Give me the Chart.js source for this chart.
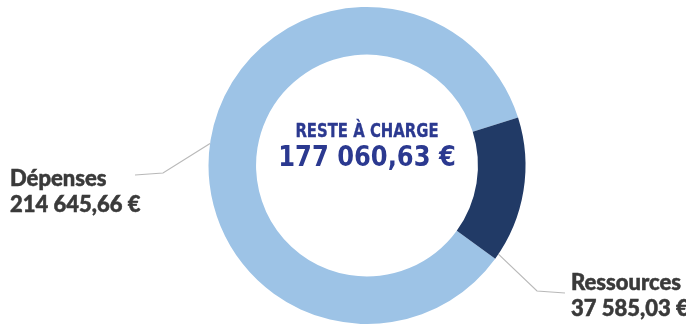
<!DOCTYPE html>
<html lang="fr">
<head>
<meta charset="utf-8">
<title>Reste à charge</title>
<script src="https://cdn.jsdelivr.net/npm/chart.js@4/dist/chart.umd.min.js"></script>
<style>
  html, body { margin: 0; padding: 0; background: #ffffff; }
  #wrap { position: relative; width: 686px; height: 324px; overflow: hidden; }
  #chart { position: absolute; left: 0; top: 0; }
  .side {
    position: absolute;
    font-family: "Lato Black", Lato, "Open Sans", sans-serif;
    font-weight: 900;
    font-size: 22px;
    line-height: 26px;
    color: #3a3a3a;
    white-space: nowrap;
    -webkit-text-stroke: 0.5px #3a3a3a;
  }
  .center {
    position: absolute;
    left: 267px;
    width: 200px;
    text-align: center;
    font-family: "DejaVu Sans Condensed", "Liberation Sans Narrow", sans-serif;
    font-weight: 700;
    color: #2b3990;
    white-space: nowrap;
  }
  #centerTitle { top: 121px; font-size: 19px; line-height: 19px; transform: scaleX(0.87); -webkit-text-stroke: 0.3px #2b3990; }
  #centerValue { top: 143px; font-size: 28px; line-height: 28px; transform: scaleX(0.96); }
</style>
</head>
<body>
<div id="wrap">
  <canvas id="chart" width="686" height="324"></canvas>
  <div class="side" id="labelDepenses" style="left:10px; top:165px;"></div>
  <div class="side" id="labelRessources" style="left:571px; top:269px;"></div>
  <div class="center" id="centerTitle"></div>
  <div class="center" id="centerValue"></div>
</div>
<script>
// Budget figures
const categories = ['Dépenses', 'Ressources'];
const amounts = [214645.66, 37585.03];
const sliceColors = ['#9dc3e6', '#213a66'];
const centerCaption = 'RESTE À CHARGE';

// French-style amount: "214 645,66 €"
function euro(v) {
  const parts = v.toFixed(2).split('.');
  const intPart = parts[0].replace(/\B(?=(\d{3})+(?!\d))/g, ' ');
  return intPart + ',' + parts[1] + ' €';
}

const remaining = Math.round((amounts[0] - amounts[1]) * 100) / 100;

document.getElementById('labelDepenses').innerHTML =
  categories[0] + '<br>' + euro(amounts[0]);
document.getElementById('labelRessources').innerHTML =
  categories[1] + '<br>' + euro(amounts[1]);
document.getElementById('centerTitle').textContent = centerCaption;
document.getElementById('centerValue').textContent = euro(remaining);

// Leader lines: ring anchor angle (degrees clockwise from top), then elbow and end points
const leaders = [
  { index: 0, angle: 278, elbow: [163, 173], end: [135, 175] },
  { index: 1, angle: 124, elbow: [537, 291], end: [565, 293] }
];

const leaderPlugin = {
  id: 'leaderLines',
  afterDatasetsDraw(chart) {
    const meta = chart.getDatasetMeta(0);
    const ctx = chart.ctx;
    ctx.save();
    ctx.strokeStyle = '#b9b9b9';
    ctx.lineWidth = 1.2;
    leaders.forEach(l => {
      const arc = meta.data[l.index];
      const a = (l.angle - 90) * Math.PI / 180;
      const r = arc.outerRadius;
      const sx = arc.x + Math.cos(a) * r;
      const sy = arc.y + Math.sin(a) * r;
      ctx.beginPath();
      ctx.moveTo(sx, sy);
      ctx.lineTo(l.elbow[0], l.elbow[1]);
      ctx.lineTo(l.end[0], l.end[1]);
      ctx.stroke();
    });
    ctx.restore();
  }
};

new Chart(document.getElementById('chart'), {
  type: 'doughnut',
  data: {
    labels: categories,
    datasets: [{
      data: amounts,
      backgroundColor: sliceColors,
      borderWidth: 0,
      hoverOffset: 0
    }]
  },
  options: {
    responsive: false,
    animation: false,
    cutout: '70%',
    rotation: 126,
    layout: { padding: { left: 48, top: 7, right: 0, bottom: 0 } },
    plugins: {
      legend: { display: false },
      tooltip: { enabled: false }
    }
  },
  plugins: [leaderPlugin]
});
</script>
</body>
</html>
